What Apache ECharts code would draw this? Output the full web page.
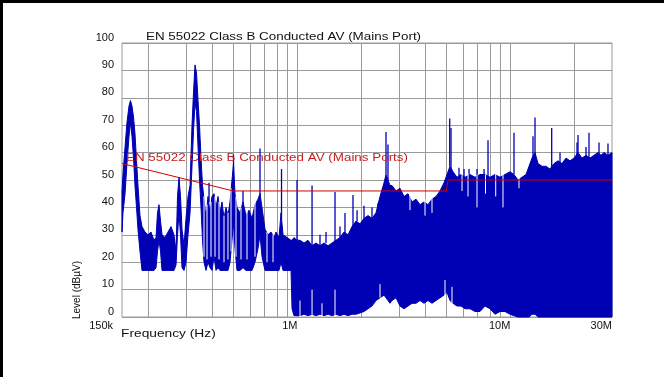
<!DOCTYPE html>
<html><head><meta charset="utf-8">
<script src="https://cdn.jsdelivr.net/npm/echarts@6/dist/echarts.min.js"></script>
<style>html,body{margin:0;padding:0;background:#fff}#c{width:664px;height:377px}</style>
</head><body><div id="c"></div>
<script>
// Frequencies in kHz
const freqs = [150,151.6,155.0,158.3,161.8,164.4,167.1,169.9,172.6,175.5,178.3,182.2,186.2,192.4,198.7,205.3,212.0,216.7,220.2,223.8,227.5,231.2,238.8,246.7,254.8,263.2,269.0,273.4,277.8,282.4,287.0,293.3,299.7,306.3,313.0,319.8,325.0,330.4,335.8,341.3,346.8,352.5,358.3,364.1,372.1,380.2,388.5,397.0,405.7,414.6,423.6,432.9,442.3,452.0,461.9,471.9,482.3,492.8,500.9,509.1,520.2,537.3,555.0,573.3,592.3,611.8,632.0,652.8,667.1,681.7,704.1,727.4,751.4,776.1,793.1,819.2,837.2,855.5,893.3,932.8,943,963.6,995.3,1028,1074,1121,1171,1222,1276,1333,1392,1453,1517,1584,1654,1728,1804,1884,1967,2054,2145,2239,2338,2442,2550,2605,2662,2720,2780,2903,3031,3165,3305,3451,3603,3763,3929,4103,4284,4474,4672,4878,5039,5205,5377,5615,5863,6122,6462,6822,7200,7599,8022,8467,8937,9433,9957,10397,10857,11337,11838,12228,12632,13049,13479,14073,14695,15345,16023,16731,17470,18243,19050,19890,20775,21690,22650,23648,24690,25792,26640,27510,28725,30000];
const lows = [31,38,45,56,66,71,66,58,48,40,32,24,17,17,17,17,17,18,24,28,24,17,17,17,17,17,19,30,38,30,18,17,20,30,38,55,68,78,75,62,50,40,28,20,17,20,18,17,22,17,18,17,17,17,17,17,20,28,35,25,17,17,18,17,17,17,20,25,30,22,17,17,17,17,17,17,20,17,17,17,3,0.5,0.5,0.5,1,0.5,1,0.5,1,0.5,1,0.5,1,0.5,1,0.5,1,1,1.5,2,3,4,6,7,8,7,6,5,6,7,4,3,4,5,5,6,5,6,5,6,7,8,9,6,5,4,4,3,3,2,2,4,3,1,2,2,1,0.5,0,0,0,0,1,1,0,0,0,0,0,0,0,0,0,0,0,0,0,0,0,0,0,0,0,0];
const highs = [46,52,62,71,77,79,77,73,67,57,48,37,33,31,30,31,28,29,38,41,35,30,29,31,33,30,24,44,51,44,32,26,36,44,48,70,82,92,89,79,70,58,48,43,36,44,38,44,45,40,44,38,42,36,40,37,42,50,56,45,40,38,42,37,39,36,41,43,45,40,32,30,31,29,31,29,38,30,29,28,28,29,28,28,27,28,26,27,26,27,26,27,28,29,31,30,33,35,34,36,37,36,38,44,49,52,50,48,48,46,47,44,45,42,43,41,42,41,43,44,46,49,52,55,53,51,52,51,52,51,52,52,51,52,51,52,53,52,50,51,52,55,58,60,56,55,55,54,56,57,56,58,57,58,60,58,59,58,59,60,59,60,59,60];

// Narrow spikes rising above the trace
const spikeF    = [384.4,500.9,555.0,667.1,841.7,995.3,1171,1276,1362,1501,1584,1672,1823,1905,2054,2239,2390,2605,2662,5189,5262,5736,6057,6395,6969,7520,7850,10397,12768,13049,15630,17100,20550,20775,22650,23394,26070,28725];
const spikeBase = [42,50,38,44,36,28,26,26,27,27,29,29,33,35,35,36,38,52,50,55,54,51,51,52,51,52,51,52,58,59,54,56,59,59,59,58,59,59];
const spikeTop  = [49,59,46,61.5,54,50,48,30,31,45.6,33,38,44.5,39,40.6,40,41.6,67.5,63,72.4,69,54.5,54,54,54,54,64.5,67.2,66,72.8,69,60,63.7,66.4,62,67.2,63.7,63.3];

// Narrow gaps (white) in the trace
const gapF    = [364.1,376.1,392.7,410.1,428.2,452.0,471.9,487.5,514.6,543.2,579.6,632.0,719.5,767.7,1028,1171,1304,1501,2442,3377,3972,4284,4931,5318,5927,6324,6969,7640,8532,9231,10974];
const gapFrom = [22,21,22,22,21,20,21,24,22,21,21,22,20,20,0,0,0,0,7,39,37,38,8,5,46,44,40,45,44,40,47];
const gapTo   = [44,41,42,44,42,37,38,47,44,40,39,42,31,30,6,10,5,10,12,45,43,44,13.5,11,53,52,52,52,53,52,51];

// Limit line EN 55022 Class B AV
const limitF = [150,500,5000,5100,30000];
const limitV = [56,46,46,50,50];

// Vertical grid lines
const gridF = [200,300,400,500,600,700,800,900,1000,2000,3000,4000,5000,6000,7000,8000,9000,10000,20000];
const xTickLabels = {150:'150k',1000:'1M',10000:'10M',30000:'30M'};

const FONT = 'Liberation Sans, Arial, sans-serif';
const BLUE = '#0000b4';
const GRID = '#9a9a9a';

function txt(text, x, y, opts){
  return Object.assign({type:'text', x:x, y:y, z:100, silent:true,
    style:Object.assign({text:text, fontSize:11, fontFamily:FONT, fill:'#111',
      align:'left', textAlign:'left', verticalAlign:'middle', textVerticalAlign:'middle'}, opts.style||{})}, opts.el||{});
}

function vline(color, width){
  return function(params, api){
    const a=api.coord([api.value(0), api.value(1)]);
    const b=api.coord([api.value(0), api.value(2)]);
    return {type:'line', shape:{x1:a[0],y1:a[1],x2:b[0],y2:b[1]}, style:{stroke:color, lineWidth:width}};
  };
}

const option = {
  animation:false,
  backgroundColor:'#fff',
  grid:{left:122, right:52, top:43, bottom:60, show:true, borderColor:GRID, borderWidth:1},
  xAxis:{type:'log', logBase:10, min:150, max:30000,
    axisLine:{show:false}, axisTick:{show:false}, splitLine:{show:false},
    axisLabel:{fontSize:11, color:'#111', fontFamily:FONT, margin:3, align:'right',
      formatter:function(v){const k=Math.round(v); const s=xTickLabels[k]||''; return k===150?'{s|'+s+'}':s;},
      rich:{s:{fontSize:11, color:'#111', fontFamily:FONT, padding:[0,9,0,0]}}}},
  yAxis:{type:'value', min:0, max:100, interval:10,
    axisLine:{show:false}, axisTick:{show:false},
    splitLine:{lineStyle:{color:GRID, width:1}},
    axisLabel:{fontSize:11, color:'#111', fontFamily:FONT, margin:8, verticalAlign:'bottom'}},
  series:[
    {type:'line', data:[], z:1, silent:true,
      markLine:{z:1, silent:true, animation:false, symbol:['none','none'], label:{show:false},
        lineStyle:{color:GRID, type:'solid', width:1}, emphasis:{disabled:true},
        data:gridF.map(v=>({xAxis:v}))}},
    {type:'custom', z:3, silent:true, encode:{x:0,y:1},
      data:[[freqs[0], lows[0]]],
      renderItem:function(params, api){
        const pts=[];
        for(let i=0;i<freqs.length;i++) pts.push(api.coord([freqs[i], highs[i]]));
        for(let i=freqs.length-1;i>=0;i--) pts.push(api.coord([freqs[i], lows[i]]));
        return {type:'polygon', shape:{points:pts}, style:{fill:BLUE, stroke:BLUE, lineWidth:1}};
      }},
    {type:'custom', z:4, silent:true, encode:{x:0,y:[1,2]},
      data:spikeF.map((f,i)=>[f, spikeBase[i], spikeTop[i]]), renderItem:vline(BLUE,1.3)},
    {type:'custom', z:5, silent:true, encode:{x:0,y:[1,2]},
      data:gapF.map((f,i)=>[f, gapFrom[i], gapTo[i]]), renderItem:vline('#ffffff',1)},
    {type:'line', z:6, silent:true, symbol:'none',
      data:limitF.map((f,i)=>[f, limitV[i]]),
      lineStyle:{color:'#d00000', width:1}}
  ],
  graphic:[
    {type:'rect', z:100, silent:true, shape:{x:0,y:0,width:3,height:377}, style:{fill:'#000'}},
    {type:'rect', z:100, silent:true, shape:{x:0,y:0,width:664,height:3}, style:{fill:'#000'}},
    txt('EN 55022 Class B Conducted AV (Mains Port)', 146, 37, {el:{scaleX:1.217}}),
    txt('EN 55022 Class B Conducted AV (Mains Ports)', 126, 158, {el:{scaleX:1.218}, style:{fill:'#c81e1e'}}),
    txt('Frequency (Hz)', 121, 334, {el:{scaleX:1.25}}),
    txt('Level (dB\u00B5V)', 77, 319, {el:{rotation:Math.PI/2}, style:{fontSize:10}})
  ]
};
const chart = echarts.init(document.getElementById('c'), null, {renderer:'canvas'});
chart.setOption(option);
</script></body></html>
